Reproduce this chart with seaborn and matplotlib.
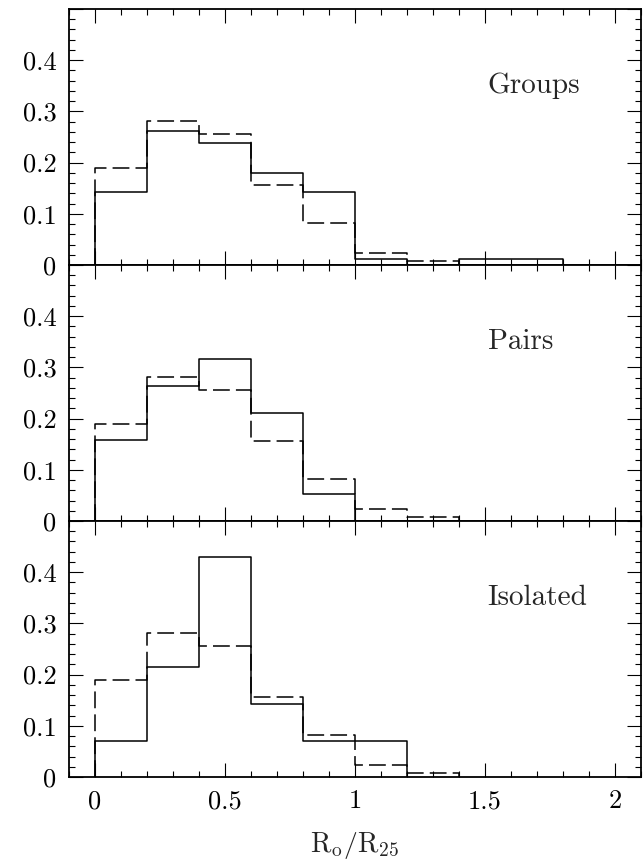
import numpy as np
import pandas as pd
import matplotlib
matplotlib.use("Agg")
import matplotlib.pyplot as plt
from matplotlib.ticker import MultipleLocator, FuncFormatter
import seaborn as sns

# bin edges of R_o/R_25 (width 0.2)
edges = [0.0, 0.2, 0.4, 0.6, 0.8, 1.0, 1.2, 1.4, 1.6, 1.8]

# fractions per bin, solid = environment, dashed = whole sample
groups = [0.143, 0.262, 0.238, 0.179, 0.143, 0.012, 0.0, 0.012, 0.012]
pairs = [0.158, 0.263, 0.316, 0.210, 0.053]
isolated = [0.071, 0.214, 0.429, 0.143, 0.071, 0.071]
total = [0.190, 0.281, 0.256, 0.157, 0.082, 0.024, 0.008]

panels = ["Groups", "Pairs", "Isolated"]
series = [groups, pairs, isolated]

sns.set_style("ticks")
plt.rcParams["font.family"] = ["cmr10", "DejaVu Serif"]
plt.rcParams["mathtext.fontset"] = "cm"
plt.rcParams["axes.formatter.use_mathtext"] = True


def step_hist(ax, vals, ls):
    # closed histogram outline: rise at first edge, drop at last edge
    n = len(vals)
    e = edges[:n + 1]
    x = [e[0]] + e[:n] + [e[n], e[n]]
    y = [0.0] + list(vals) + [vals[-1], 0.0]
    df = pd.DataFrame({"r": x, "frac": y})
    sns.lineplot(data=df, x="r", y="frac", estimator=None, sort=False,
                 drawstyle="steps-post", color="black", linewidth=1.1,
                 linestyle=ls, ax=ax)


W, H = 643, 861
fig = plt.figure(figsize=(W / 100, H / 100), dpi=100)
left, right = 69, 641
bottoms = [265, 521, 777]
ph = 256

fmt = FuncFormatter(lambda v, p: "" if v > 0.45 else f"{v:g}")

for i, (name, vals) in enumerate(zip(panels, series)):
    ax = fig.add_axes([left / W, 1 - bottoms[i] / H, (right - left) / W, ph / H])
    step_hist(ax, total, (0, (11, 4)))
    step_hist(ax, vals, "-")
    ax.set_xlim(-0.1, 2.1)
    ax.set_ylim(0, 0.5)
    ax.set_xlabel("")
    ax.set_ylabel("")
    ax.xaxis.set_major_locator(MultipleLocator(0.5))
    ax.xaxis.set_minor_locator(MultipleLocator(0.1))
    ax.yaxis.set_major_locator(MultipleLocator(0.1))
    ax.yaxis.set_minor_locator(MultipleLocator(0.02))
    ax.yaxis.set_major_formatter(fmt)
    ax.xaxis.set_major_formatter(FuncFormatter(lambda v, p: f"{v:g}"))
    ax.tick_params(which="both", direction="in", top=True, right=True,
                   width=0.8, color="black", labelsize=19, labelcolor="black")
    ax.tick_params(which="major", length=10, pad=9)
    ax.tick_params(which="minor", length=4.5)
    ax.tick_params(axis="x", labelbottom=(i == 2))
    for sp in ax.spines.values():
        sp.set_linewidth(1.3)
        sp.set_color("black")
    ax.text(1.51, 0.35, name, ha="left", va="center", fontsize=21)

ax.set_xlabel(r"$\mathrm{R_o/R_{25}}$", fontsize=20, labelpad=12)

fig.savefig("out.png", dpi=100)
